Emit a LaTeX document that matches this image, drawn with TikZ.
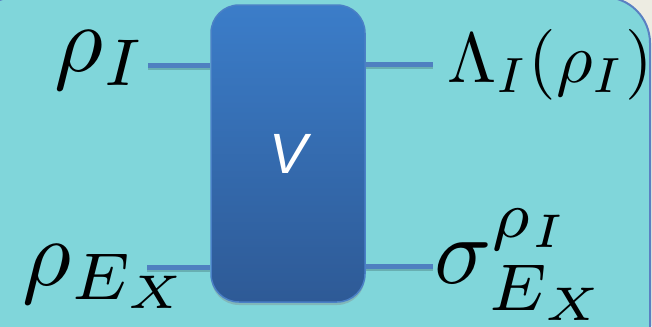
\documentclass[tikz,border=0pt]{standalone}
\usepackage{graphicx}
\usepackage{fontspec}
\newfontfamily\vfont{Liberation Sans}
\usetikzlibrary{shadows}
\definecolor{tealbg}{HTML}{80D6DA}
\definecolor{creambg}{HTML}{EDECE2}
\definecolor{framecol}{HTML}{5A80C2}
\definecolor{boxtop}{HTML}{3B7DC9}
\definecolor{boxbot}{HTML}{2E5A96}
\definecolor{boxedge}{HTML}{4A80C6}
\definecolor{wirecol}{HTML}{4F80C0}
\newcommand{\bigmath}[1]{\scalebox{9.5}{$#1$}}
\newcommand{\midmath}[1]{\scalebox{7.1}{$#1$}}
\tikzset{
  lbl/.style={anchor=base west, inner sep=0pt, text=black},
  gatebox/.style={rectangle, rounded corners=28bp, minimum width=154bp, minimum height=297bp,
    top color=boxtop, bottom color=boxbot, draw=boxedge, line width=1.5bp,
    drop shadow={opacity=0.35, shadow xshift=0bp, shadow yshift=-3bp},
    text=white, font=\vfont\itshape\fontsize{57}{57}\selectfont, inner sep=0pt},
  wire/.style={draw=wirecol, line width=5bp},
  wireshadow/.style={draw=black, opacity=0.18, line width=5bp}
}
\begin{document}
\begin{tikzpicture}[x=1bp,y=-1bp]
\useasboundingbox (0,0) rectangle (652,326);
\clip (0,0) rectangle (652,326);
\fill[creambg] (0,0) rectangle (652,326);
\draw[fill=tealbg, draw=framecol, line width=2bp, rounded corners=46bp] (-30,-3) rectangle (650,400);
% labels
\node[lbl] (rI) at (54,71) {\bigmath{\rho_I}};
\node[lbl] (rE) at (22,285) {\bigmath{\rho_{E_X}}};
\node[lbl] (LI) at (447,82) {\midmath{\Lambda_I(\rho_I)}};
\node[lbl] (sE) at (434,283) {\bigmath{\sigma^{\rho_I}_{E_X}}};
% wire ends
\coordinate (a1) at (148,65);
\coordinate (a2) at (147,267);
\coordinate (b1) at (433,64);
\coordinate (b2) at (433,266);
% gate
\node[gatebox] (V) at (288,153.5) {V};
% wire shadows
\draw[wireshadow] ([yshift=-2bp]a1) -- ([yshift=-2bp]V.west |- a1);
\draw[wireshadow] ([yshift=-2bp]a2) -- ([yshift=-2bp]V.west |- a2);
\draw[wireshadow] ([yshift=-2bp]V.east |- b1) -- ([yshift=-2bp]b1);
\draw[wireshadow] ([yshift=-2bp]V.east |- b2) -- ([yshift=-2bp]b2);
% wires
\draw[wire] (a1) -- (V.west |- a1);
\draw[wire] (a2) -- (V.west |- a2);
\draw[wire] (V.east |- b1) -- (b1);
\draw[wire] (V.east |- b2) -- (b2);
\end{tikzpicture}
\end{document}
